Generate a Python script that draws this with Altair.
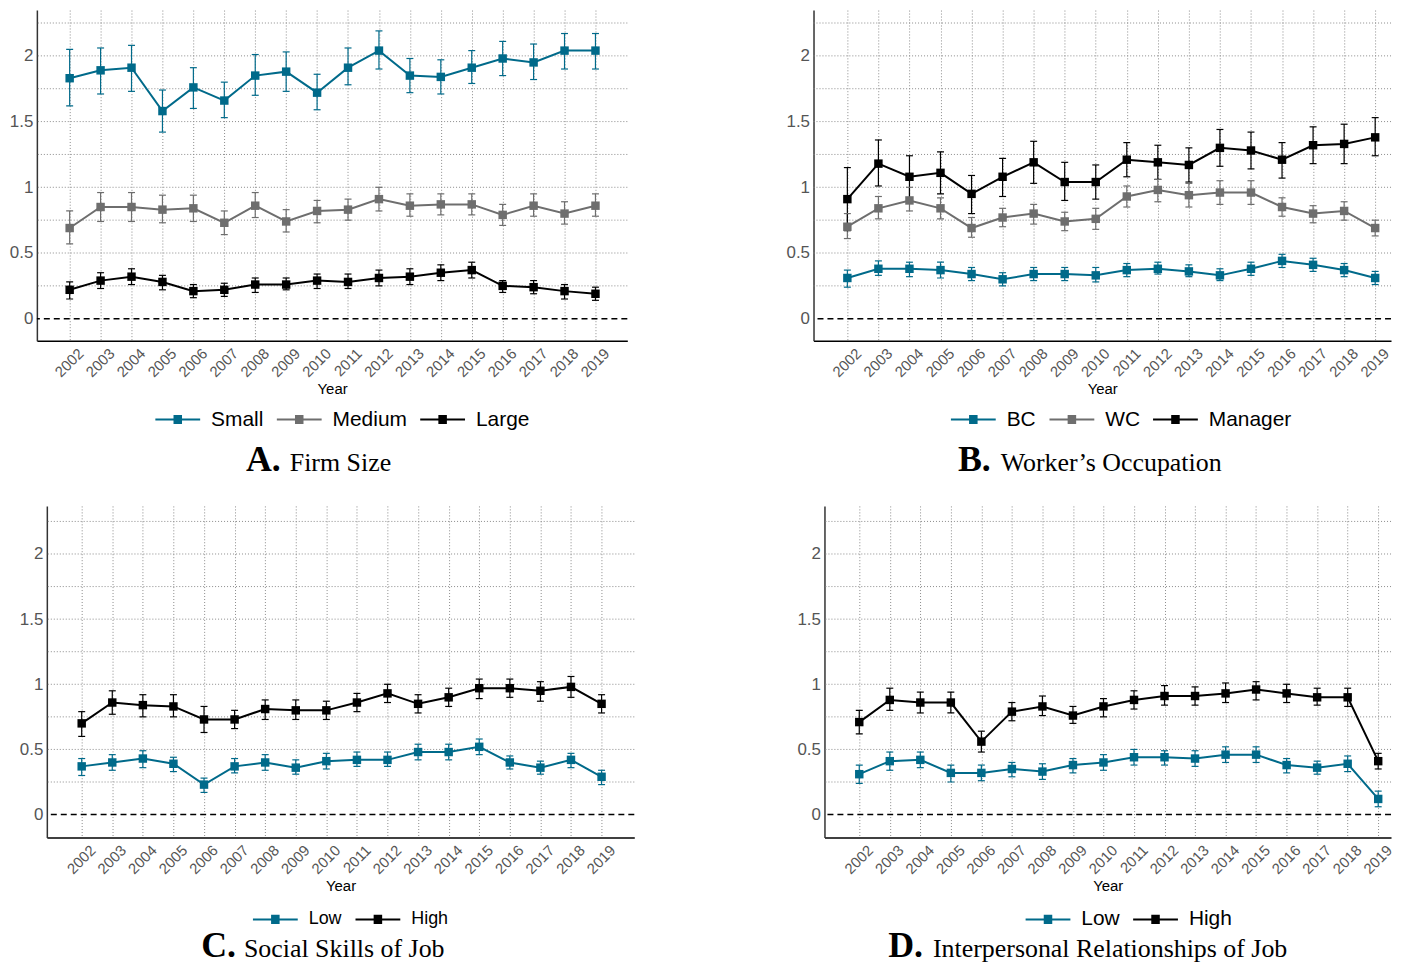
import altair as alt
import pandas as pd

years = list(range(2002, 2020))

# Panel A: Firm size
A_small = [1.83, 1.89, 1.91, 1.58, 1.76, 1.66, 1.85, 1.88, 1.72, 1.91, 2.04, 1.85, 1.84, 1.91, 1.98, 1.95, 2.04, 2.04]
A_small_lo = [1.62, 1.71, 1.73, 1.42, 1.60, 1.53, 1.70, 1.73, 1.59, 1.78, 1.90, 1.72, 1.71, 1.79, 1.85, 1.82, 1.90, 1.90]
A_small_hi = [2.05, 2.06, 2.08, 1.74, 1.91, 1.80, 2.01, 2.03, 1.86, 2.06, 2.19, 1.98, 1.97, 2.04, 2.11, 2.09, 2.17, 2.17]
A_med = [0.69, 0.85, 0.85, 0.83, 0.84, 0.73, 0.86, 0.74, 0.82, 0.83, 0.91, 0.86, 0.87, 0.87, 0.79, 0.86, 0.80, 0.86]
A_med_lo = [0.57, 0.74, 0.74, 0.73, 0.74, 0.64, 0.77, 0.66, 0.73, 0.75, 0.82, 0.78, 0.79, 0.79, 0.71, 0.78, 0.72, 0.78]
A_med_hi = [0.82, 0.96, 0.96, 0.94, 0.94, 0.82, 0.96, 0.83, 0.90, 0.91, 1.00, 0.95, 0.95, 0.95, 0.87, 0.95, 0.89, 0.95]
A_large = [0.22, 0.29, 0.32, 0.28, 0.21, 0.22, 0.26, 0.26, 0.29, 0.28, 0.31, 0.32, 0.35, 0.37, 0.25, 0.24, 0.21, 0.19]
A_large_lo = [0.15, 0.23, 0.26, 0.22, 0.16, 0.17, 0.20, 0.22, 0.23, 0.23, 0.25, 0.26, 0.29, 0.31, 0.20, 0.19, 0.15, 0.14]
A_large_hi = [0.28, 0.35, 0.38, 0.33, 0.26, 0.27, 0.31, 0.31, 0.34, 0.34, 0.37, 0.38, 0.41, 0.43, 0.29, 0.29, 0.26, 0.24]

# Panel B: Worker's occupation
B_bc = [0.31, 0.38, 0.38, 0.37, 0.34, 0.30, 0.34, 0.34, 0.33, 0.37, 0.38, 0.36, 0.33, 0.38, 0.44, 0.41, 0.37, 0.31]
B_bc_lo = [0.24, 0.33, 0.32, 0.31, 0.29, 0.25, 0.29, 0.29, 0.28, 0.32, 0.34, 0.32, 0.29, 0.33, 0.39, 0.36, 0.32, 0.26]
B_bc_hi = [0.37, 0.44, 0.43, 0.43, 0.39, 0.35, 0.39, 0.39, 0.39, 0.42, 0.43, 0.41, 0.38, 0.43, 0.49, 0.46, 0.42, 0.36]
B_wc = [0.70, 0.84, 0.90, 0.84, 0.69, 0.77, 0.80, 0.74, 0.76, 0.93, 0.98, 0.94, 0.96, 0.96, 0.85, 0.80, 0.82, 0.69]
B_wc_lo = [0.61, 0.76, 0.82, 0.76, 0.62, 0.70, 0.72, 0.67, 0.68, 0.85, 0.89, 0.85, 0.87, 0.87, 0.78, 0.73, 0.75, 0.63]
B_wc_hi = [0.80, 0.93, 1.00, 0.92, 0.77, 0.84, 0.87, 0.81, 0.84, 1.01, 1.06, 1.03, 1.05, 1.05, 0.92, 0.86, 0.89, 0.75]
B_mgr = [0.91, 1.18, 1.08, 1.11, 0.95, 1.08, 1.19, 1.04, 1.04, 1.21, 1.19, 1.17, 1.30, 1.28, 1.21, 1.32, 1.33, 1.38]
B_mgr_lo = [0.67, 1.01, 0.91, 0.95, 0.80, 0.93, 1.03, 0.90, 0.91, 1.08, 1.06, 1.04, 1.16, 1.14, 1.07, 1.18, 1.18, 1.24]
B_mgr_hi = [1.15, 1.36, 1.24, 1.27, 1.09, 1.22, 1.35, 1.19, 1.17, 1.34, 1.32, 1.30, 1.44, 1.42, 1.34, 1.46, 1.48, 1.53]

# Panel C: Social skills of job
C_low = [0.37, 0.40, 0.43, 0.39, 0.23, 0.37, 0.40, 0.36, 0.41, 0.42, 0.42, 0.48, 0.48, 0.52, 0.40, 0.36, 0.42, 0.29]
C_low_lo = [0.30, 0.34, 0.36, 0.33, 0.17, 0.32, 0.34, 0.31, 0.35, 0.37, 0.37, 0.42, 0.42, 0.46, 0.35, 0.31, 0.36, 0.23]
C_low_hi = [0.43, 0.46, 0.49, 0.44, 0.28, 0.43, 0.46, 0.42, 0.47, 0.48, 0.48, 0.54, 0.54, 0.58, 0.45, 0.41, 0.47, 0.34]
C_high = [0.70, 0.86, 0.84, 0.83, 0.73, 0.73, 0.81, 0.80, 0.80, 0.86, 0.93, 0.85, 0.90, 0.97, 0.97, 0.95, 0.98, 0.85]
C_high_lo = [0.60, 0.77, 0.75, 0.75, 0.63, 0.66, 0.73, 0.73, 0.73, 0.79, 0.86, 0.78, 0.83, 0.89, 0.90, 0.87, 0.90, 0.78]
C_high_hi = [0.79, 0.95, 0.92, 0.92, 0.83, 0.80, 0.88, 0.88, 0.87, 0.93, 1.00, 0.92, 0.97, 1.04, 1.04, 1.02, 1.06, 0.92]

# Panel D: Interpersonal relationships of job
D_low = [0.31, 0.41, 0.42, 0.32, 0.32, 0.35, 0.33, 0.38, 0.40, 0.44, 0.44, 0.43, 0.46, 0.46, 0.38, 0.36, 0.39, 0.12]
D_low_lo = [0.24, 0.34, 0.36, 0.25, 0.26, 0.29, 0.27, 0.32, 0.34, 0.38, 0.38, 0.37, 0.40, 0.40, 0.32, 0.31, 0.33, 0.06]
D_low_hi = [0.38, 0.48, 0.48, 0.38, 0.38, 0.40, 0.39, 0.43, 0.46, 0.50, 0.49, 0.49, 0.52, 0.52, 0.43, 0.41, 0.45, 0.18]
D_high = [0.71, 0.88, 0.86, 0.86, 0.56, 0.79, 0.83, 0.76, 0.83, 0.88, 0.91, 0.91, 0.93, 0.96, 0.93, 0.90, 0.90, 0.41]
D_high_lo = [0.62, 0.80, 0.78, 0.78, 0.48, 0.72, 0.76, 0.70, 0.75, 0.81, 0.84, 0.84, 0.86, 0.88, 0.86, 0.84, 0.83, 0.35]
D_high_hi = [0.80, 0.97, 0.94, 0.94, 0.64, 0.86, 0.91, 0.83, 0.89, 0.95, 0.99, 0.98, 1.01, 1.02, 1.00, 0.97, 0.97, 0.47]

names_A = ["Small", "Medium", "Large"]
names_B = ["BC", "WC", "Manager"]
names_C = ["Low", "High"]
names_D = ["Low", "High"]
panel_letters = ["A.", "B.", "C.", "D."]
panel_titles = ["Firm Size", "Worker\u2019s Occupation", "Social Skills of Job",
                "Interpersonal Relationships of Job"]
y_labels = [0, 0.5, 1, 1.5, 2]
y_grid = [0.25, 0.5, 0.75, 1, 1.25, 1.5, 1.75, 2, 2.25]

TEAL = "#006a8a"
GRAY = "#6e6e6e"
BLACK = "#000000"
GRID = "#8a8a8a"

LEG_PATH = ("M-1,0H1M-0.19,-0.16H0.19M-0.19,-0.08H0.19M-0.19,0H0.19"
            "M-0.19,0.08H0.19M-0.19,0.16H0.19")


def make_df(names, series):
    rows = []
    for name, (est, lo, hi) in zip(names, series):
        for yr, e, l, h in zip(years, est, lo, hi):
            rows.append({"series": name, "year": yr, "est": e, "lo": l, "hi": h})
    return pd.DataFrame(rows)


def panel(df, names, colors, width, height, xdom, ydom, min_ext,
          leg_x, leg_y, leg_fs, letter, title, letter_x, title_x, title_y):
    xs = alt.Scale(domain=xdom, nice=False, zero=False)
    ys = alt.Scale(domain=ydom, nice=False, zero=False)
    x_axis = alt.Axis(values=years, format="d", title="Year", labelAngle=315,
                      labelAlign="right", labelBaseline="top", labelFontSize=15,
                      labelColor="#555555", labelFont="Liberation Sans",
                      labelPadding=5, labelOffset=6, labelFlush=False,
                      labelOverlap=False, ticks=False, grid=True, gridDash=[1, 2],
                      gridColor=GRID, gridWidth=1, domainColor="#000000",
                      domainWidth=1.5, titleFontSize=15, titleFontWeight="normal",
                      titleColor="#000000", titleFont="Liberation Sans", titlePadding=2)
    y_axis = alt.Axis(values=y_labels, format="~g", title=None, labelFontSize=17,
                      labelColor="#555555", labelFont="Liberation Sans", labelPadding=4,
                      ticks=False, domainColor="#333333", domainWidth=1.5, grid=False,
                      minExtent=min_ext, labelOverlap=False)
    X = alt.X("year:Q", scale=xs, axis=x_axis)
    cscale = alt.Scale(domain=names, range=colors)
    color_plain = alt.Color("series:N", scale=cscale)
    color_leg = alt.Color("series:N", scale=cscale,
                          legend=alt.Legend(orient="none", legendX=leg_x, legendY=leg_y,
                                            direction="horizontal", columns=len(names),
                                            title=None, symbolType=LEG_PATH,
                                            symbolSize=2025, symbolStrokeWidth=2,
                                            symbolOpacity=1,
                                            labelFontSize=leg_fs, labelFont="Liberation Sans",
                                            labelColor="#000000", labelOffset=10,
                                            columnPadding=9, padding=0, labelLimit=400))
    base = alt.Chart(df)
    grid = alt.Chart(pd.DataFrame({"g": y_grid})).mark_rule(
        strokeDash=[1, 2], strokeWidth=1, color=GRID).encode(
        y=alt.Y("g:Q", scale=ys, axis=y_axis))
    zero = alt.Chart(pd.DataFrame({"z": [0]})).mark_rule(
        strokeDash=[6, 4], strokeWidth=1.5, color="#000000").encode(
        y=alt.Y("z:Q", scale=ys))
    rules = base.mark_rule(strokeWidth=1.2, opacity=1).encode(
        x=X, y=alt.Y("lo:Q", scale=ys), y2="hi:Q", color=color_plain)
    cap_lo = base.mark_tick(orient="horizontal", size=7, thickness=1.2, opacity=1).encode(
        x=X, y=alt.Y("lo:Q", scale=ys), color=color_plain)
    cap_hi = base.mark_tick(orient="horizontal", size=7, thickness=1.2, opacity=1).encode(
        x=X, y=alt.Y("hi:Q", scale=ys), color=color_plain)
    line = base.mark_line(strokeWidth=2, opacity=1).encode(
        x=X, y=alt.Y("est:Q", scale=ys), color=color_leg)
    pts = base.mark_square(size=72, opacity=1).encode(
        x=X, y=alt.Y("est:Q", scale=ys),
        fill=alt.Fill("series:N", scale=alt.Scale(domain=names, range=colors), legend=None))
    t1 = alt.Chart(pd.DataFrame({"t": [letter]})).mark_text(
        align="right", baseline="alphabetic", font="Liberation Serif", fontSize=36,
        fontWeight="bold", color="#000000").encode(
        text="t:N", x=alt.value(letter_x), y=alt.value(title_y))
    t2 = alt.Chart(pd.DataFrame({"t": [title]})).mark_text(
        align="left", baseline="alphabetic", font="Liberation Serif", fontSize=26,
        color="#000000").encode(
        text="t:N", x=alt.value(title_x), y=alt.value(title_y))
    return alt.layer(grid, zero, line, rules, cap_lo, cap_hi, pts, t1, t2).properties(
        width=width, height=height)


def spacer():
    return alt.Chart(pd.DataFrame({"s": [0]})).mark_rule(
        strokeWidth=0, opacity=0).encode(
        x=alt.value(0), x2=alt.value(0), y=alt.value(0), y2=alt.value(0)).properties(
        width=1, height=1)


dfA = make_df(names_A, [(A_small, A_small_lo, A_small_hi), (A_med, A_med_lo, A_med_hi),
                        (A_large, A_large_lo, A_large_hi)])
dfB = make_df(names_B, [(B_bc, B_bc_lo, B_bc_hi), (B_wc, B_wc_lo, B_wc_hi),
                        (B_mgr, B_mgr_lo, B_mgr_hi)])
dfC = make_df(names_C, [(C_low, C_low_lo, C_low_hi), (C_high, C_high_lo, C_high_hi)])
dfD = make_df(names_D, [(D_low, D_low_lo, D_low_hi), (D_high, D_high_lo, D_high_hi)])

pA = panel(dfA, names_A, [TEAL, GRAY, BLACK], 593, 332, [2000.94, 2020.03], [-0.1667, 2.3485],
           28, 118, 387.5, 21, panel_letters[0], panel_titles[0], 245, 254, 463)
pB = panel(dfB, names_B, [TEAL, GRAY, BLACK], 580, 332, [2000.91, 2019.51], [-0.1667, 2.3485],
           186, 137, 387.5, 21, panel_letters[1], panel_titles[1], 178, 188, 463)
pC = panel(dfC, names_C, [TEAL, BLACK], 590, 333, [2000.86, 2020.07], [-0.1758, 2.369],
           38, 206, 391.5, 18, panel_letters[2], panel_titles[2], 190, 198, 453)
pD = panel(dfD, names_D, [TEAL, BLACK], 569, 333, [2000.86, 2019.42], [-0.1758, 2.369],
           190, 201, 391.5, 21, panel_letters[3], panel_titles[3], 99, 109, 453)

row1 = alt.hconcat(spacer(), pA, pB, spacing=0).resolve_scale(
    color="independent", fill="independent")
row2 = alt.hconcat(spacer(), pC, pD, spacing=0).resolve_scale(
    color="independent", fill="independent")

chart = alt.concat(row1, row2, columns=1, align="none", spacing=28).resolve_scale(
    color="independent", fill="independent").properties(
    padding=0, background="white").configure_view(strokeWidth=0)

chart.save("out.html", embed_options={"renderer": "svg", "actions": False})
